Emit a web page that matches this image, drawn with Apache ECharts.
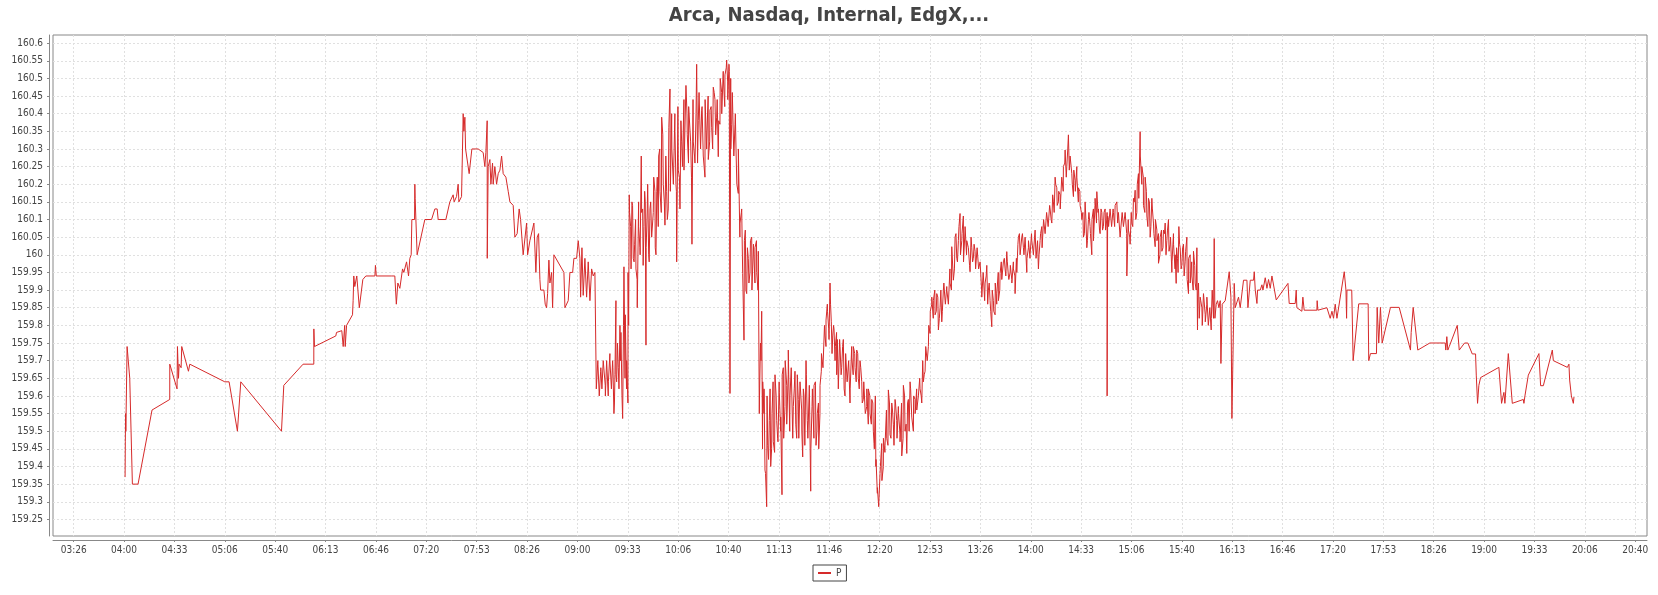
<!DOCTYPE html>
<html><head><meta charset="utf-8">
<script src="https://cdn.jsdelivr.net/npm/echarts@6/dist/echarts.min.js"></script>
<style>html,body{margin:0;padding:0;background:#fff}#c{width:1658px;height:595px}</style>
</head><body><div id="c"></div>
<script>
const chartTitle = 'Arca, Nasdaq, Internal, EdgX,...';
const seriesName = 'P';
const xTickTimes = ['03:26:40','04:00:00','04:33:20','05:06:40','05:40:00','06:13:20','06:46:40','07:20:00','07:53:20','08:26:40','09:00:00','09:33:20','10:06:40','10:40:00','11:13:20','11:46:40','12:20:00','12:53:20','13:26:40','14:00:00','14:33:20','15:06:40','15:40:00','16:13:20','16:46:40','17:20:00','17:53:20','18:26:40','19:00:00','19:33:20','20:06:40','20:40:00'];
const xTickLabels = ['03:26','04:00','04:33','05:06','05:40','06:13','06:46','07:20','07:53','08:26','09:00','09:33','10:06','10:40','11:13','11:46','12:20','12:53','13:26','14:00','14:33','15:06','15:40','16:13','16:46','17:20','17:53','18:26','19:00','19:33','20:06','20:40'];
const yTicks = [159.25,159.3,159.35,159.4,159.45,159.5,159.55,159.6,159.65,159.7,159.75,159.8,159.85,159.9,159.95,160,160.05,160.1,160.15,160.2,160.25,160.3,160.35,160.4,160.45,160.5,160.55,160.6];
const xRange = ['03:12:58','20:47:48'];
const yRange = [159.203, 160.623];

// individual prints: [time, price]
const trades = [
['04:00:40',159.37],['04:00:50',159.47],['04:01:00',159.55],['04:01:10',159.50],['04:02:00',159.74],['04:03:45',159.65],['04:05:30',159.35],['04:09:15',159.35],['04:18:30',159.56],['04:30:13',159.59],
['04:30:15',159.69],['04:35:03',159.62],['04:35:20',159.74],['04:36:00',159.65],['04:36:25',159.69],['04:37:45',159.68],['04:38:10',159.74],['04:42:36',159.67],['04:43:30',159.69],['05:06:40',159.64],
['05:09:30',159.64],['05:15:00',159.50],['05:17:14',159.64],['05:44:10',159.50],['05:45:42',159.63],['05:58:28',159.69],['06:05:33',159.69],['06:05:35',159.79],['06:06:00',159.74],['06:20:07',159.77],
['06:20:35',159.78],['06:24:05',159.785],['06:25:00',159.74],['06:26:00',159.80],['06:26:20',159.74],['06:27:15',159.80],['06:31:10',159.83],['06:31:35',159.87],['06:32:00',159.94],['06:32:40',159.91],
['06:34:00',159.94],['06:35:40',159.85],['06:38:00',159.93],['06:40:00',159.94],['06:46:00',159.94],['06:46:20',159.97],['06:46:55',159.94],['06:57:10',159.94],['06:59:10',159.94],['07:00:10',159.86],
['07:01:10',159.92],['07:02:30',159.905],['07:04:17',159.96],['07:05:08',159.95],['07:06:56',159.98],['07:08:15',159.94],['07:09:07',159.99],['07:10:00',160.00],['07:10:26',160.10],['07:12:13',160.10],
['07:12:25',160.20],['07:12:37',160.16],['07:13:33',160.16],['07:13:56',160.00],['07:19:02',160.10],['07:23:29',160.10],['07:25:40',160.13],['07:27:11',160.13],['07:27:51',160.10],['07:32:56',160.10],
['07:35:35',160.15],['07:37:46',160.17],['07:38:26',160.15],['07:40:00',160.165],['07:41:05',160.20],['07:41:33',160.15],['07:43:20',160.165],['07:44:00',160.16],['07:44:24',160.40],['07:44:52',160.35],
['07:45:32',160.39],['07:46:00',160.30],['07:48:22',160.23],['07:49:17',160.23],['07:50:09',160.30],['07:54:20',160.30],['07:57:38',160.29],['07:58:45',160.25],['07:59:25',160.29],['08:00:17',160.38],
['08:00:20',159.99],['08:00:57',160.25],['08:02:05',160.27],['08:02:45',160.20],['08:03:50',160.26],['08:04:15',160.20],['08:05:22',160.25],['08:06:30',160.20],['08:07:35',160.23],['08:08:42',160.24],
['08:09:50',160.28],['08:10:53',160.23],['08:12:40',160.22],['08:14:12',160.18],['08:15:20',160.15],['08:17:30',160.14],['08:18:37',160.05],['08:20:08',160.06],['08:21:27',160.13],['08:22:23',160.10],
['08:24:06',160.00],['08:26:22',160.09],['08:27:02',160.00],['08:28:33',160.04],['08:31:12',160.09],['08:32:31',159.95],['08:33:23',160.05],['08:34:18',160.06],['08:35:10',159.93],['08:35:38',159.90],
['08:37:49',159.90],['08:38:41',159.86],['08:39:36',159.85],['08:40:16',159.89],['08:41:08',159.985],['08:41:48',159.92],['08:42:55',159.95],['08:43:35',159.85],['08:44:27',160.00],['08:51:04',159.95],
['08:51:44',159.85],['08:53:55',159.87],['08:55:02',159.95],['08:56:50',159.95],['08:57:41',159.99],['08:59:28',159.99],['09:00:32',160.04],['09:01:39',159.99],['09:02:07',159.88],['09:03:00',160.02],
['09:03:50',159.885],['09:04:58',159.99],['09:06:05',159.88],['09:07:09',159.98],['09:08:17',159.87],['09:09:24',159.96],['09:10:28',159.94],['09:11:35',159.95],['09:12:43',159.617],['09:13:35',159.69],
['09:14:27',159.60],['09:15:22',159.67],['09:16:13',159.62],['09:17:05',159.70],['09:18:25',159.63],['09:19:20',159.70],['09:20:24',159.60],['09:21:31',159.70],['09:23:18',159.70],['09:24:10',159.55],
['09:24:50',159.66],['09:25:30',159.87],['09:25:58',159.64],['09:27:02',159.68],['09:28:09',159.80],['09:28:49',159.78],['09:29:56',159.536],['09:30:48',159.966],['09:31:40',159.83],['09:32:35',159.70],
['09:33:26',159.58],['09:33:54',159.80],['09:34:18',160.17],['09:35:13',160.08],['09:36:05',160.15],['09:36:57',159.99],['09:37:52',160.03],['09:38:44',159.96],['09:39:36',159.85],['09:40:31',160.08],
['09:41:23',160.02],['09:42:15',160.28],['09:43:10',160.13],['09:44:02',160.08],['09:44:54',160.15],['09:45:22',159.744],['09:46:14',160.13],['09:47:09',160.00],['09:48:01',160.13],['09:49:08',160.05],
['09:50:12',160.12],['09:51:19',160.18],['09:51:59',160.00],['09:52:51',160.22],['09:53:46',160.28],['09:54:38',160.18],['09:55:45',160.39],['09:56:49',160.20],['09:57:56',160.084],['09:59:03',160.18],
['10:00:07',160.13],['10:01:15',160.47],['10:02:22',160.40],['10:03:26',160.30],['10:04:33',160.35],['10:05:13',160.20],['10:05:41',159.98],['10:06:45',160.24],['10:07:52',160.13],['10:08:59',160.32],
['10:10:31',160.24],['10:11:50',160.48],['10:12:42',160.34],['10:13:37',160.42],['10:14:56',160.32],['10:15:48',160.03],['10:16:40',160.32],['10:17:47',160.26],['10:18:55',160.54],['10:19:59',160.38],
['10:21:06',160.46],['10:22:13',160.41],['10:23:17',160.28],['10:24:25',160.22],['10:25:32',160.32],['10:26:36',160.27],['10:27:43',160.41],['10:28:51',160.36],['10:29:54',160.475],['10:31:02',160.44],
['10:32:09',160.39],['10:33:13',160.278],['10:34:20',160.37],['10:35:28',160.46],['10:36:31',160.504],['10:37:39',160.51],['10:38:46',160.552],['10:39:26',160.49],['10:40:18',160.54],['10:40:58',159.607],
['10:41:26',160.50],['10:42:06',160.37],['10:43:09',160.46],['10:44:17',160.37],['10:44:57',160.30],['10:46:28',160.174],['10:47:35',160.09],['10:48:43',160.13],['10:49:22',159.947],['10:50:14',159.758],
['10:51:06',160.07],['10:52:01',159.89],['10:53:05',159.99],['10:54:12',159.95],['10:55:20',160.05],['10:56:24',159.90],['10:57:31',160.02],['10:58:38',159.95],['10:59:42',160.01],['11:00:22',159.55],
['11:01:09',159.75],['11:01:57',159.84],['11:02:37',159.64],['11:03:28',159.55],['11:04:08',159.39],['11:05:15',159.286],['11:05:55',159.46],['11:06:59',159.53],['11:07:54',159.40],['11:08:46',159.55],
['11:09:38',159.47],['11:10:45',159.66],['11:11:53',159.53],['11:12:44',159.47],['11:13:36',159.61],['11:14:31',159.54],['11:15:23',159.32],['11:16:15',159.68],['11:17:22',159.57],['11:18:30',159.63],
['11:19:33',159.73],['11:20:41',159.60],['11:21:48',159.68],['11:22:52',159.57],['11:23:59',159.67],['11:25:07',159.48],['11:26:10',159.59],['11:27:18',159.64],['11:28:25',159.56],['11:29:05',159.427],
['11:29:57',159.60],['11:31:17',159.70],['11:32:08',159.53],['11:33:28',159.63],['11:34:23',159.33],['11:35:15',159.57],['11:36:34',159.63],['11:37:54',159.46],['11:38:45',159.55],['11:39:41',159.45],
['11:40:33',159.63],['11:41:24',159.67],['11:41:52',159.72],['11:42:44',159.68],['11:43:51',159.77],['11:44:31',159.815],['11:45:23',159.86],['11:46:18',159.79],['11:47:10',159.92],['11:48:01',159.81],
['11:48:57',159.77],['11:49:48',159.79],['11:50:40',159.74],['11:51:35',159.66],['11:51:59',159.76],['11:52:39',159.62],['11:53:47',159.74],['11:54:54',159.68],['11:55:58',159.76],['11:57:05',159.60],
['11:58:13',159.72],['11:59:16',159.64],['12:00:24',159.58],['12:01:32',159.71],['12:02:35',159.74],['12:03:43',159.68],['12:04:50',159.73],['12:05:54',159.65],['12:07:01',159.70],['12:08:09',159.64],
['12:09:12',159.59],['12:10:20',159.64],['12:11:27',159.57],['12:12:31',159.62],['12:13:38',159.55],['12:14:46',159.59],['12:15:50',159.50],['12:16:18',159.465],['12:17:09',159.60],['12:17:36',159.42],
['12:18:29',159.324],['12:19:24',159.286],['12:20:16',159.38],['12:21:23',159.465],['12:22:27',159.40],['12:23:34',159.46],['12:24:42',159.48],['12:25:46',159.617],['12:26:53',159.49],['12:28:01',159.58],
['12:29:04',159.52],['12:30:12',159.59],['12:31:19',159.53],['12:32:23',159.57],['12:33:30',159.49],['12:34:38',159.43],['12:35:42',159.63],['12:36:49',159.50],['12:37:57',159.437],['12:39:00',159.59],
['12:40:08',159.64],['12:41:15',159.54],['12:42:19',159.50],['12:43:27',159.59],['12:44:34',159.56],['12:45:38',159.60],['12:46:45',159.62],['12:47:53',159.58],['12:48:56',159.64],['12:50:04',159.67],
['12:51:11',159.71],['12:52:15',159.74],['12:53:22',159.777],['12:54:30',159.86],['12:55:33',159.87],['12:56:41',159.83],['12:57:48',159.89],['12:58:52',159.787],['12:59:59',159.85],['13:01:07',159.81],
['13:02:10',159.90],['13:03:18',159.87],['13:04:25',159.91],['13:05:29',159.86],['13:06:36',159.92],['13:07:44',160.023],['13:08:47',159.928],['13:09:55',160.05],['13:11:02',159.99],['13:12:06',160.04],
['13:13:13',160.117],['13:14:21',160.04],['13:15:24',160.11],['13:16:32',160.08],['13:17:39',160.04],['13:18:43',160.02],['13:19:50',159.952],['13:20:58',160.02],['13:22:01',159.99],['13:23:09',160.01],
['13:24:16',159.96],['13:25:20',160.02],['13:26:28',159.98],['13:27:36',159.88],['13:28:39',159.94],['13:29:47',159.92],['13:30:54',159.97],['13:31:58',159.90],['13:33:05',159.87],['13:34:13',159.796],
['13:35:16',159.87],['13:36:24',159.83],['13:37:31',159.89],['13:38:35',159.87],['13:39:42',159.947],['13:40:50',159.93],['13:41:53',159.98],['13:43:01',159.96],['13:44:08',160.009],['13:45:12',159.94],
['13:46:19',159.95],['13:47:27',159.93],['13:48:31',159.96],['13:49:38',159.89],['13:50:46',159.95],['13:51:49',160.05],['13:52:57',160.00],['13:54:04',160.05],['13:55:08',160.02],['13:56:15',160.05],
['13:57:23',159.95],['13:58:27',160.02],['13:59:34',160.00],['14:00:42',160.04],['14:01:45',160.00],['14:02:53',160.07],['14:04:00',159.99],['14:05:04',159.96],['14:06:11',160.04],['14:07:19',160.08],
['14:08:22',160.02],['14:09:30',160.10],['14:10:37',160.117],['14:11:41',160.09],['14:12:48',160.13],['14:13:56',160.09],['14:14:59',160.15],['14:16:07',160.22],['14:17:14',160.19],['14:18:18',160.15],
['14:19:25',160.17],['14:20:33',160.22],['14:21:36',160.25],['14:22:44',160.297],['14:23:51',160.25],['14:24:55',160.34],['14:26:02',160.28],['14:27:10',160.23],['14:28:14',160.165],['14:29:21',160.21],
['14:30:29',160.25],['14:31:32',160.19],['14:32:40',160.14],['14:33:47',160.10],['14:34:51',160.05],['14:35:58',160.15],['14:37:06',160.02],['14:38:09',160.10],['14:39:17',160.08],['14:40:24',160.00],
['14:41:28',160.13],['14:42:35',160.16],['14:43:43',160.179],['14:44:47',160.13],['14:45:54',160.06],['14:47:02',160.12],['14:48:05',160.08],['14:49:13',160.13],['14:50:20',160.10],['14:50:32',159.60],
['14:50:52',160.11],['14:51:24',160.10],['14:52:31',160.13],['14:53:39',160.08],['14:54:42',160.12],['14:55:50',160.14],['14:56:57',160.15],['14:58:01',160.12],['14:59:08',160.05],['15:00:16',160.11],
['15:01:19',160.08],['15:02:27',160.12],['15:03:35',159.94],['15:04:38',160.07],['15:05:46',160.03],['15:06:54',160.09],['15:07:57',160.16],['15:09:05',160.183],['15:10:12',160.12],['15:11:16',160.23],
['15:12:23',160.349],['15:13:31',160.25],['15:14:35',160.14],['15:15:42',160.22],['15:16:50',160.11],['15:17:53',160.16],['15:19:01',160.05],['15:20:08',160.16],['15:21:12',160.09],['15:22:20',160.023],
['15:23:27',160.07],['15:24:31',159.976],['15:25:38',160.05],['15:26:46',160.01],['15:27:49',160.07],['15:28:57',160.09],['15:30:04',160.04],['15:31:08',160.10],['15:32:15',160.03],['15:33:23',159.95],
['15:34:26',160.06],['15:35:34',160.00],['15:36:14',159.919],['15:37:06',159.99],['15:38:01',160.08],['15:38:53',160.02],['15:40:00',159.97],['15:41:04',160.03],['15:42:11',159.98],['15:43:19',160.05],
['15:44:22',159.89],['15:45:30',160.00],['15:46:37',159.94],['15:47:41',160.01],['15:48:48',159.92],['15:49:56',160.02],['15:50:20',159.787],['15:51:00',159.92],['15:52:07',159.88],['15:53:15',159.85],
['15:54:18',159.89],['15:55:26',159.83],['15:56:33',159.88],['15:57:37',159.80],['15:58:44',159.85],['15:59:24',159.787],['16:00:04',159.90],['16:00:56',159.82],['16:01:24',160.046],['16:01:52',159.82],
['16:02:44',159.86],['16:03:35',159.87],['16:04:31',159.85],['16:05:22',159.87],['16:05:50',159.692],['16:06:42',159.86],['16:08:41',159.87],['16:11:20',159.952],['16:12:27',159.88],['16:13:07',159.536],
['16:14:38',159.919],['16:15:18',159.85],['16:17:29',159.88],['16:18:37',159.85],['16:20:48',159.928],['16:23:03',159.928],['16:23:43',159.85],['16:25:15',159.928],['16:27:26',159.928],['16:27:54',159.952],
['16:28:34',159.90],['16:29:41',159.862],['16:30:05',159.90],['16:31:52',159.90],['16:32:59',159.915],['16:33:39',159.90],['16:35:10',159.935],['16:36:18',159.905],['16:37:21',159.93],['16:38:29',159.905],
['16:39:36',159.94],['16:40:40',159.935],['16:42:27',159.872],['16:50:12',159.919],['16:51:02',159.862],['16:55:00',159.862],['16:55:40',159.90],['16:56:06',159.85],['16:59:25',159.84],['17:00:04',159.88],
['17:00:56',159.843],['17:09:20',159.843],['17:09:32',159.87],['17:10:00',159.843],['17:15:59',159.85],['17:18:10',159.82],['17:19:18',159.84],['17:20:22',159.82],['17:21:29',159.86],['17:22:37',159.82],
['17:27:27',159.952],['17:28:35',159.90],['17:29:00',159.82],['17:29:15',159.90],['17:32:25',159.90],['17:33:20',159.70],['17:37:02',159.861],['17:43:16',159.861],['17:43:40',159.70],['17:44:48',159.72],
['17:48:46',159.72],['17:49:14',159.851],['17:50:17',159.75],['17:51:25',159.851],['17:52:32',159.75],['17:58:02',159.851],['18:03:48',159.851],['18:11:17',159.73],['18:11:45',159.78],['18:13:04',159.851],
['18:16:07',159.73],['18:24:04',159.75],['18:34:16',159.75],['18:34:40',159.73],['18:35:20',159.768],['18:36:00',159.73],['18:36:56',159.74],['18:42:14',159.80],['18:43:33',159.73],['18:47:04',159.75],
['18:49:15',159.75],['18:52:10',159.719],['18:54:21',159.719],['18:54:49',159.659],['18:55:40',159.579],['18:56:32',159.63],['18:57:40',159.652],['19:09:47',159.681],['19:11:34',159.579],['19:13:06',159.61],
['19:13:46',159.579],['19:16:01',159.72],['19:18:40',159.579],['19:25:57',159.59],['19:26:21',159.579],['19:27:01',159.60],['19:29:16',159.659],['19:36:17',159.72],['19:37:24',159.629],['19:39:12',159.629],
['19:45:09',159.73],['19:45:49',159.70],['19:55:05',159.681],['19:56:09',159.69],['19:56:37',159.645],['19:57:45',159.60],['19:58:25',159.60],['19:59:04',159.579],['19:59:28',159.597]
];

// extra prints in the busy hours, one per minute at hh:mm:30: [start minute, prices...]
const busyMinutes = [
['09:12',[159.62,159.70,159.60,159.68,159.62,159.70,159.60,159.70,159.64,159.72]],
['09:22',[159.62,159.68,159.58,159.66,159.75,159.62,159.70,159.60,159.80,159.65,159.62,159.95]],
['09:34',[160.12,159.96,160.14,159.98,160.10,159.93,160.15,160.00,160.12,159.97]],
['09:44',[160.18,160.02,160.20,159.98,160.15,160.05,160.22,160.02,160.18,160.08]],
['09:54',[160.30,160.12,160.34,160.15,160.28,160.10,160.36,160.18,160.30,160.20]],
['10:04',[160.40,160.18,160.42,160.22,160.38,160.25,160.44,160.24,160.40,160.26]],
['10:14',[160.42,160.22,160.44,160.28,160.40,160.26,160.46,160.30,160.42,160.28]],
['10:24',[160.44,160.30,160.45,160.32,160.42,160.30,160.46,160.34,160.44,160.38]],
['10:34',[160.50,160.40,160.52,160.42,160.53,160.44,160.52,160.30,160.46,160.28]],
['10:44',[160.40,160.20,160.30,160.05,160.12,159.92,160.04,159.90,160.02,159.92]],
['10:54',[160.04,159.90,160.03,159.92,160.04,159.90,159.60,159.70,159.45,159.62]],
['11:04',[159.38,159.60,159.42,159.62,159.45,159.64,159.44,159.60,159.48,159.64]],
['11:14',[159.50,159.66,159.48,159.70,159.52,159.66,159.50,159.68,159.48,159.62]],
['11:24',[159.52,159.66,159.48,159.64,159.50,159.62,159.46,159.66,159.48,159.62]],
['11:34',[159.45,159.62,159.48,159.64,159.50,159.58,159.55,159.72,159.68,159.80]],
['11:44',[159.74,159.84,159.76,159.86,159.72,159.80,159.70,159.78,159.66,159.76]],
['11:54',[159.66,159.74,159.62,159.72,159.64,159.70,159.62,159.74,159.66,159.72]],
['12:04',[159.64,159.72,159.62,159.68,159.58,159.64,159.55,159.62,159.52,159.60]],
['12:14',[159.52,159.58,159.45,159.40,159.34,159.30,159.40,159.36,159.48,159.44]],
['12:24',[159.56,159.46,159.58,159.48,159.56,159.46,159.58,159.48,159.55,159.47]],
['12:34',[159.58,159.48,159.60,159.52,159.58,159.50,159.62,159.54,159.60,159.55]],
['12:44',[159.62,159.56,159.65,159.60,159.70,159.66,159.74,159.70,159.80,159.84]],
['12:54',[159.88,159.82,159.90,159.84,159.88,159.82,159.90,159.84,159.92,159.86]],
['13:04',[159.90,159.86,159.96,159.90,160.02,159.96,160.06,159.98,160.08,160.00]],
['13:14',[160.06,159.98,160.07,160.00,160.04,159.97,160.05,159.98,160.03,159.96]],
['13:24',[160.02,159.96,159.98,159.90,159.95,159.87,159.94,159.86,159.92,159.84]],
['13:34',[159.90,159.84,159.92,159.86,159.95,159.90,159.98,159.93,159.99,159.94]],
['13:44',[159.98,159.93,159.97,159.92,159.98,159.94,159.99,160.03,160.06,160.00]],
['13:54',[160.06,160.00,160.05,159.99,160.04,159.99,160.06,160.01,160.05,159.99]],
['14:04',[160.04,160.00,160.06,160.02,160.10,160.06,160.12,160.08,160.14,160.10]],
['14:14',[160.17,160.12,160.20,160.14,160.18,160.13,160.22,160.18,160.26,160.22]],
['14:24',[160.30,160.24,160.28,160.20,160.24,160.18,160.22,160.15,160.18,160.12]],
['14:34',[160.12,160.06,160.10,160.04,160.12,160.06,160.10,160.04,160.14,160.09]],
['14:44',[160.12,160.07,160.13,160.07,160.12,160.07,160.12,160.08,160.13,160.08]],
['14:54',[160.13,160.08,160.14,160.09,160.12,160.07,160.12,160.08,160.12,160.06]],
['15:04',[160.10,160.05,160.12,160.08,160.15,160.10,160.20,160.16,160.28,160.20]],
['15:14',[160.22,160.12,160.18,160.08,160.15,160.08,160.13,160.06,160.10,160.04]],
['15:24',[160.06,160.00,160.07,160.02,160.06,160.00,160.07,160.01,160.05,159.98]],
['15:34',[160.03,159.96,160.02,159.95,160.03,159.96,160.02,159.94,160.01,159.93]],
['15:44',[159.99,159.92,159.98,159.90,159.97,159.90,159.88,159.82,159.87,159.80]],
['15:54',[159.88,159.81,159.86,159.80,159.85,159.82]]
];

function toSec(t){ const p = t.split(':').map(Number); return p[0]*3600 + p[1]*60 + (p[2]||0); }
const xTickSecs = xTickTimes.map(toSec);
const allPrints = trades.map(d => [toSec(d[0]), d[1]]);
busyMinutes.forEach(([start, prices]) => {
  const s0 = toSec(start) + 30;
  prices.forEach((p, i) => allPrints.push([s0 + i * 60, p]));
});
allPrints.sort((a, b) => a[0] - b[0]);

const FONT = "'DejaVu Sans Condensed', 'DejaVu Sans', sans-serif";
const AXIS = '#888888';
const GRIDLINE = { color: '#e0e0e0', type: [2, 2], width: 1 };

const chart = echarts.init(document.getElementById('c'), null, { renderer: 'canvas' });
chart.setOption({
  animation: false,
  backgroundColor: '#ffffff',
  title: {
    text: chartTitle, left: 'center', top: 1,
    textStyle: { fontFamily: FONT, fontSize: 20, fontWeight: 'bold', color: '#444444' }
  },
  legend: {
    data: [seriesName], left: 813, top: 565, icon: 'rect', itemWidth: 13, itemHeight: 2,
    padding: [3, 5, 3, 5], borderColor: '#444444', borderWidth: 1, borderRadius: 0,
    textStyle: { fontFamily: FONT, fontSize: 10, color: '#444444' }
  },
  grid: { left: 53, right: 11, top: 35, bottom: 59, show: true, borderColor: AXIS, borderWidth: 1, backgroundColor: 'transparent' },
  xAxis: {
    type: 'value', min: toSec(xRange[0]), max: toSec(xRange[1]), offset: 4,
    axisLine: { show: true, onZero: false, lineStyle: { color: AXIS } },
    axisTick: { show: true, length: 2, customValues: xTickSecs, lineStyle: { color: AXIS } },
    axisLabel: {
      customValues: xTickSecs, margin: 5, fontFamily: FONT, fontSize: 10, color: '#444444',
      formatter: v => { const i = xTickSecs.indexOf(v); return i >= 0 ? xTickLabels[i] : ''; }
    },
    splitLine: { show: true, lineStyle: GRIDLINE }
  },
  yAxis: {
    type: 'value', min: yRange[0], max: yRange[1], offset: 4,
    axisLine: { show: true, onZero: false, lineStyle: { color: AXIS } },
    axisTick: { show: true, length: 2, customValues: yTicks, lineStyle: { color: AXIS } },
    axisLabel: {
      customValues: yTicks, margin: 6, fontFamily: FONT, fontSize: 10, color: '#444444',
      formatter: v => String(Number(v.toFixed(2)))
    },
    splitLine: { show: true, lineStyle: GRIDLINE }
  },
  series: [{
    name: seriesName, type: 'line', data: allPrints, showSymbol: false, symbol: 'none',
    lineStyle: { color: '#d62a2a', width: 1 }, itemStyle: { color: '#d62a2a' },
    sampling: null, clip: true
  }]
});
</script>
</body></html>
